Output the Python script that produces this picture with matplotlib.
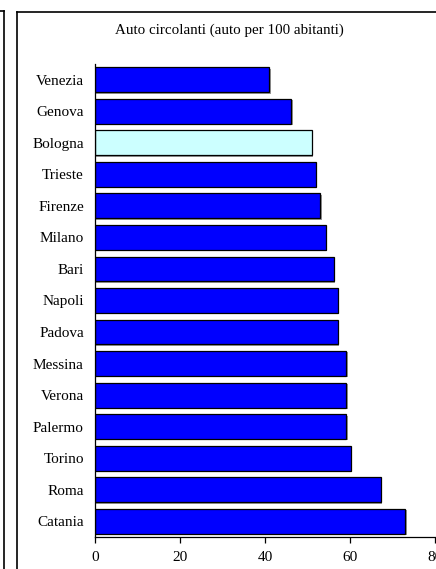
import matplotlib
matplotlib.use("Agg")
import matplotlib.pyplot as plt
import matplotlib.patheffects as pe
from matplotlib.lines import Line2D

# data (top to bottom)
citta = ["Venezia", "Genova", "Bologna", "Trieste", "Firenze", "Milano", "Bari",
         "Napoli", "Padova", "Messina", "Verona", "Palermo", "Torino", "Roma", "Catania"]
auto = [41, 46.2, 51, 52, 53, 54.3, 56.2, 57.2, 57.2, 59.1, 59.1, 59.1, 60.2, 67.2, 73]
evidenziata = "Bologna"
titolo = "Auto circolanti (auto per 100 abitanti)"
xticks = [0, 20, 40, 60, 80]

W, H = 436, 569
plt.rcParams['font.family'] = ['Liberation Serif', 'DejaVu Serif']

fig = plt.figure(figsize=(W / 100, H / 100), dpi=100)

def fx(px):
    return px / W

def fy(py):
    return 1 - py / H

# frame of the chart and the edge of the neighbouring one
fig.add_artist(Line2D([fx(17), fx(17)], [fy(12), 0], color="black", lw=1.2))
fig.add_artist(Line2D([fx(17), 1], [fy(12), fy(12)], color="black", lw=1.2))
fig.add_artist(Line2D([fx(4), fx(4)], [fy(11), 0], color="black", lw=1.2))
fig.add_artist(Line2D([0, fx(4)], [fy(11), fy(11)], color="black", lw=1.2))

ax = fig.add_axes([fx(95), fy(537), fx(435) - fx(95), fy(64) - fy(537)])

colors = ["#CCFFFF" if c == evidenziata else "#0000FF" for c in citta]
pos = list(range(len(citta)))
bars = ax.barh(pos, auto, height=0.79, color=colors, edgecolor="black", linewidth=0.9)
for b in bars:
    b.set_path_effects([pe.SimplePatchShadow(offset=(1, -1), shadow_rgbFace="#808080", alpha=0.8),
                        pe.Normal()])

ax.set_yticks(pos)
ax.set_yticklabels(citta, fontsize=11)
ax.set_ylim(len(citta) - 0.5, -0.5)
ax.set_xlim(0, 80)
ax.set_xticks(xticks)
ax.set_xticklabels([str(v) for v in xticks], fontsize=11)
ax.tick_params(axis="y", length=0, pad=8)
ax.tick_params(axis="x", direction="out", length=4, width=0.9, pad=6)
ax.spines["top"].set_visible(False)
ax.spines["right"].set_visible(False)
for s in ["left", "bottom"]:
    ax.spines[s].set_linewidth(0.9)

fig.text(fx(229), fy(30), titolo, ha="center", va="center", fontsize=10.8)

fig.savefig("out.png", dpi=100)
